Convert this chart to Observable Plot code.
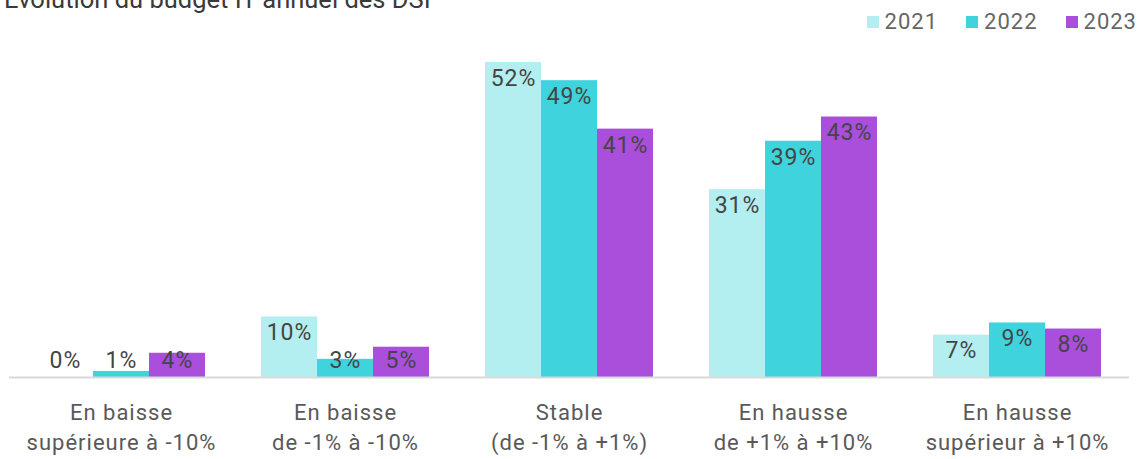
<!DOCTYPE html>
<html>
<head>
<meta charset="utf-8">
<script src="https://cdn.jsdelivr.net/npm/d3@7"></script>
<script src="https://cdn.jsdelivr.net/npm/@observablehq/plot@0.6"></script>
<style>
  html, body { margin: 0; padding: 0; background: #fff; }
  #wrap { position: relative; width: 1142px; height: 459px; overflow: hidden; font-family: Roboto, "Noto Sans", sans-serif; }
  #title { position: absolute; left: 4px; top: -13px; font-size: 25.5px; line-height: 1; color: #3a3a3a; white-space: nowrap; }
  #legend { position: absolute; right: 5px; top: 9px; display: flex; gap: 28px; font-size: 22px; letter-spacing: 1px; color: #666; line-height: 26px; }
  #legend .item { display: flex; align-items: center; gap: 6px; }
  #legend .sw { width: 12px; height: 12px; display: inline-block; }
  #chart { position: absolute; left: 0; top: 40px; }
  #chart text { letter-spacing: 1px; }
</style>
</head>
<body>
<div id="wrap">
  <div id="title"></div>
  <div id="legend"></div>
  <div id="chart"></div>
</div>
<script>
const titleText = "Evolution du budget IT annuel des DSI";
const categories = [
  "En baisse\nsupérieure à -10%",
  "En baisse\nde -1% à -10%",
  "Stable\n(de -1% à +1%)",
  "En hausse\nde +1% à +10%",
  "En hausse\nsupérieur à +10%"
];
const years = ["2021", "2022", "2023"];
const values2021 = [0, 10, 52, 31, 7];
const values2022 = [1, 3, 49, 39, 9];
const values2023 = [4, 5, 41, 43, 8];
const colors = ["#b3eef0", "#3fd3dd", "#aa4edc"];

const series = [values2021, values2022, values2023];
const data = [];
categories.forEach((c, i) => years.forEach((y, j) => data.push({cat: c, year: y, value: series[j][i]})));

document.getElementById("title").textContent = titleText;
const legend = document.getElementById("legend");
years.forEach((y, j) => {
  const it = document.createElement("div");
  it.className = "item";
  const sw = document.createElement("span");
  sw.className = "sw";
  sw.style.background = colors[j];
  const t = document.createElement("span");
  t.textContent = y;
  it.appendChild(sw); it.appendChild(t);
  legend.appendChild(it);
});

const chart = Plot.plot({
  width: 1142,
  height: 419,
  marginLeft: 37,
  marginRight: 41,
  marginTop: 22,
  marginBottom: 82,
  style: {fontFamily: "Roboto, 'Noto Sans', sans-serif", background: "#fff"},
  fx: {domain: categories, paddingInner: 0.25, paddingOuter: 0, axis: null, label: null},
  x: {domain: years, padding: 0, axis: null},
  y: {domain: [0, 52], axis: null},
  color: {domain: years, range: colors},
  marks: [
    Plot.barY(data, {fx: "cat", x: "year", y: "value", fill: "year"}),
    Plot.ruleY([0], {stroke: "#d9d9d9", strokeWidth: 2, insetLeft: -28, insetRight: -28}),
    Plot.text(data, {
      fx: "cat", x: "year",
      y: d => Math.max(d.value, 5.5),
      text: d => d.value + "%",
      dy: 16, fontSize: 23, fill: "#454545"
    }),
    Plot.text(categories, {
      fx: d => d,
      text: d => d,
      frameAnchor: "bottom",
      lineAnchor: "top",
      dy: 21,
      lineHeight: 1.38,
      fontSize: 22,
      fill: "#595959"
    })
  ]
});
document.getElementById("chart").appendChild(chart);
</script>
</body>
</html>
